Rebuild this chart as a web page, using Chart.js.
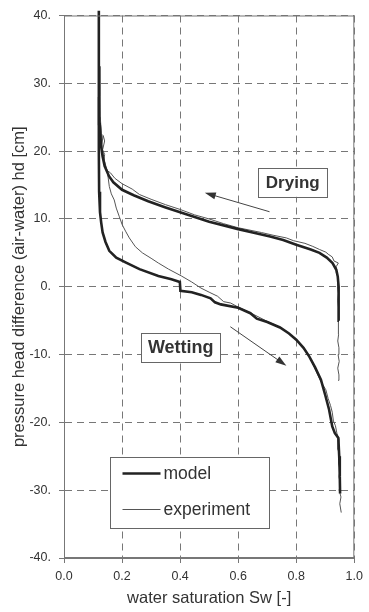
<!DOCTYPE html>
<html>
<head>
<meta charset="utf-8">
<script src="https://cdn.jsdelivr.net/npm/chart.js@4.4.1/dist/chart.umd.min.js"></script>
<style>
  html, body { margin: 0; padding: 0; background: #fff; }
  #wrap { width: 369px; height: 612px; }
</style>
</head>
<body>
<div id="wrap"><canvas id="chart" width="369" height="612"></canvas></div>
<script>
// tick values
const xTicks = [0, 0.2, 0.4, 0.6, 0.8, 1.0];
const yTicks = [-40, -30, -20, -10, 0, 10, 20, 30, 40];

// model, wetting branch (saturation / head)
const modelWetSw = [0.12, 0.12, 0.121, 0.124, 0.128, 0.133, 0.143, 0.156, 0.18, 0.212, 0.26, 0.325, 0.37, 0.399, 0.401, 0.44, 0.472, 0.505, 0.52, 0.54, 0.6, 0.642, 0.664, 0.7, 0.744, 0.775, 0.8, 0.825, 0.845, 0.865, 0.885, 0.9, 0.913, 0.924, 0.933, 0.945, 0.948, 0.95, 0.951];
const modelWetHd = [40.7, 20, 14, 11, 9.5, 8, 6.6, 5.3, 4.3, 3.6, 2.6, 1.6, 1.1, 0.7, -0.6, -0.8, -1.2, -1.7, -2.3, -2.6, -3.1, -3.9, -4.7, -5.2, -6.0, -6.9, -7.8, -9.0, -10.3, -11.9, -13.7, -16, -18.1, -20.6, -21.6, -22.3, -25, -28, -30.5];

// model, drying branch
const modelDrySw = [0.947, 0.947, 0.945, 0.943, 0.938, 0.925, 0.905, 0.88, 0.85, 0.8, 0.755, 0.71, 0.65, 0.6, 0.5, 0.45, 0.4, 0.35, 0.29, 0.24, 0.2, 0.17, 0.155, 0.14, 0.133, 0.127, 0.123, 0.121];
const modelDryHd = [-5, -2, 0, 1.5, 2.5, 3.5, 4.3, 5.0, 5.5, 6.2, 6.9, 7.4, 8.0, 8.5, 9.6, 10.3, 11.0, 11.7, 12.6, 13.5, 14.3, 15.4, 16.3, 17.8, 19.2, 21, 24, 28];

// experiment, drying branch
const expDrySw = [0.944, 0.947, 0.943, 0.948, 0.944, 0.947, 0.943, 0.946, 0.944, 0.947, 0.944, 0.946, 0.943, 0.945, 0.942, 0.944, 0.94, 0.938, 0.945, 0.93, 0.924, 0.91, 0.902, 0.88, 0.857, 0.83, 0.79, 0.766, 0.72, 0.68, 0.6, 0.55, 0.5, 0.45, 0.4, 0.35, 0.3, 0.26, 0.235, 0.2, 0.175, 0.16, 0.15, 0.14, 0.137, 0.14, 0.133, 0.14, 0.135, 0.13, 0.128, 0.125];
const expDryHd = [-13.8, -13, -12, -11, -10, -9, -8, -7, -6, -5, -4, -3, -2, -1, 0, 1, 2, 3, 3.5, 3.8, 4.4, 4.8, 5.1, 5.5, 5.95, 6.4, 6.8, 7.2, 7.6, 8.0, 8.7, 9.3, 10.0, 10.6, 11.4, 12.1, 12.9, 13.6, 14.4, 15.2, 16, 16.8, 17.1, 17.8, 18.5, 19.5, 20.2, 21.5, 22.3, 21, 23, 25];

// experiment, wetting branch
const expWetSw = [0.123, 0.124, 0.125, 0.128, 0.13, 0.14, 0.15, 0.156, 0.163, 0.173, 0.18, 0.19, 0.2, 0.212, 0.225, 0.246, 0.27, 0.3, 0.325, 0.36, 0.404, 0.44, 0.472, 0.5, 0.529, 0.55, 0.574, 0.6, 0.64, 0.7, 0.75, 0.8, 0.84, 0.868, 0.885, 0.902, 0.91, 0.918, 0.924, 0.928, 0.935, 0.94, 0.947, 0.944, 0.95, 0.946, 0.951, 0.947, 0.952, 0.948, 0.954, 0.95, 0.955];
const expWetHd = [32.5, 28, 24.5, 22.5, 20.5, 18.5, 16.8, 14.8, 13.7, 12.8, 11.6, 10.4, 9.2, 8.2, 7.2, 5.9, 5.0, 4.2, 3.5, 2.6, 1.6, 0.7, -0.2, -0.8, -1.4, -2.2, -2.4, -3.0, -3.8, -5.1, -6.1, -7.7, -9.9, -12.4, -14, -15.2, -16.5, -17.5, -18.5, -19.8, -20.5, -21.6, -22.5, -24, -25, -26, -27, -28, -29, -30, -31, -32, -33.3];

const pts = (xs, ys) => xs.map((x, i) => ({ x: x, y: ys[i] }));

const FONT = 'Arial, "Liberation Sans", sans-serif';
const INK = '#333';

// frame, annotation boxes, arrows and the legend box
const extras = {
  id: 'extras',
  afterDraw(chart) {
    const { ctx, chartArea: a, scales } = chart;
    const px = v => scales.x.getPixelForValue(v);
    const py = v => scales.y.getPixelForValue(v);
    ctx.save();
    ctx.setLineDash([]);

    ctx.strokeStyle = '#777';
    ctx.lineWidth = 1;
    ctx.strokeRect(a.left + 0.5, a.top + 0.5, a.right - a.left - 1, a.bottom - a.top - 1);

    function box(text, cx, cy, w, h, size) {
      const x = px(cx) - w / 2, y = py(cy) - h / 2;
      ctx.fillStyle = '#fff';
      ctx.fillRect(x, y, w, h);
      ctx.strokeStyle = '#666';
      ctx.lineWidth = 1;
      ctx.strokeRect(Math.round(x) + 0.5, Math.round(y) + 0.5, w, h);
      ctx.fillStyle = INK;
      ctx.font = 'bold ' + size + 'px ' + FONT;
      ctx.textAlign = 'center';
      ctx.textBaseline = 'middle';
      ctx.fillText(text, x + w / 2, y + h / 2 + 1);
    }
    box('Drying', 0.788, 15.4, 69, 29, 17);
    box('Wetting', 0.402, -8.9, 79, 29, 18);

    function arrow(x0, y0, x1, y1) {
      const ax = px(x0), ay = py(y0), bx = px(x1), by = py(y1);
      const ang = Math.atan2(by - ay, bx - ax);
      ctx.strokeStyle = '#444';
      ctx.lineWidth = 1;
      ctx.beginPath();
      ctx.moveTo(ax, ay);
      ctx.lineTo(bx - 8 * Math.cos(ang), by - 8 * Math.sin(ang));
      ctx.stroke();
      ctx.fillStyle = '#333';
      ctx.beginPath();
      ctx.moveTo(bx, by);
      ctx.lineTo(bx - 11 * Math.cos(ang) + 3.5 * Math.sin(ang), by - 11 * Math.sin(ang) - 3.5 * Math.cos(ang));
      ctx.lineTo(bx - 11 * Math.cos(ang) - 3.5 * Math.sin(ang), by - 11 * Math.sin(ang) + 3.5 * Math.cos(ang));
      ctx.closePath();
      ctx.fill();
    }
    arrow(0.708, 11.06, 0.485, 13.86);
    arrow(0.573, -5.9, 0.766, -11.65);

    // legend
    const lx = Math.round(px(0.158)) + 0.5, ly = Math.round(py(-25.1)) + 0.5;
    const lw = 159, lh = 71;
    ctx.fillStyle = '#fff';
    ctx.fillRect(lx, ly, lw, lh);
    ctx.strokeStyle = '#666';
    ctx.strokeRect(lx, ly, lw, lh);
    const items = chart.data.datasets.filter(d => d.legend);
    items.forEach((d, i) => {
      const yy = ly + 16 + i * 36;
      ctx.strokeStyle = d.borderColor;
      ctx.lineWidth = d.borderWidth;
      ctx.beginPath();
      ctx.moveTo(lx + 12, yy);
      ctx.lineTo(lx + 50, yy);
      ctx.stroke();
      ctx.fillStyle = INK;
      ctx.font = '17.5px ' + FONT;
      ctx.textAlign = 'left';
      ctx.textBaseline = 'middle';
      ctx.fillText(d.label, lx + 53, yy + 1);
    });
    ctx.restore();
  }
};

const gridStyle = {
  color: '#777',
  lineWidth: 1,
  tickLength: 5,
  tickColor: '#777',
  tickBorderDash: []
};
const borderStyle = { color: '#777', width: 1, dash: [7, 5] };

new Chart(document.getElementById('chart'), {
  type: 'scatter',
  data: {
    datasets: [
      { label: 'model', legend: true, data: pts(modelWetSw, modelWetHd), borderColor: '#222', borderWidth: 2.6, clip: 6 },
      { label: 'model dry', data: pts(modelDrySw, modelDryHd), borderColor: '#222', borderWidth: 2.6 },
      { label: 'experiment', legend: true, data: pts(expWetSw, expWetHd), borderColor: '#555', borderWidth: 1 },
      { label: 'experiment dry', data: pts(expDrySw, expDryHd), borderColor: '#555', borderWidth: 1 }
    ].map(d => Object.assign({ showLine: true, pointRadius: 0, tension: 0, fill: false }, d))
  },
  options: {
    responsive: false,
    animation: false,
    layout: { padding: { top: 15, right: 10, left: 0, bottom: 0 } },
    plugins: { legend: { display: false }, tooltip: { enabled: false } },
    scales: {
      x: {
        min: 0, max: 1,
        afterBuildTicks: s => { s.ticks = xTicks.map(v => ({ value: v })); },
        afterFit: s => { s.height = 54; },
        grid: gridStyle,
        border: borderStyle,
        ticks: { color: INK, font: { family: FONT, size: 12.5 }, padding: 6, callback: v => v.toFixed(1) },
        title: { display: true, text: 'water saturation Sw [-]', color: INK, font: { family: FONT, size: 16.5 }, padding: { top: 0, bottom: 4 } }
      },
      y: {
        min: -40, max: 40,
        afterBuildTicks: s => { s.ticks = yTicks.map(v => ({ value: v })); },
        afterFit: s => { s.width = 64; },
        grid: gridStyle,
        border: borderStyle,
        ticks: { color: INK, font: { family: FONT, size: 12.5 }, padding: 8, callback: v => v + '.' },
        title: { display: true, text: 'pressure head difference (air-water) hd [cm]', color: INK, font: { family: FONT, size: 16.5 }, padding: { top: 10, bottom: 0 } }
      }
    }
  },
  plugins: [extras]
});
</script>
</body>
</html>
